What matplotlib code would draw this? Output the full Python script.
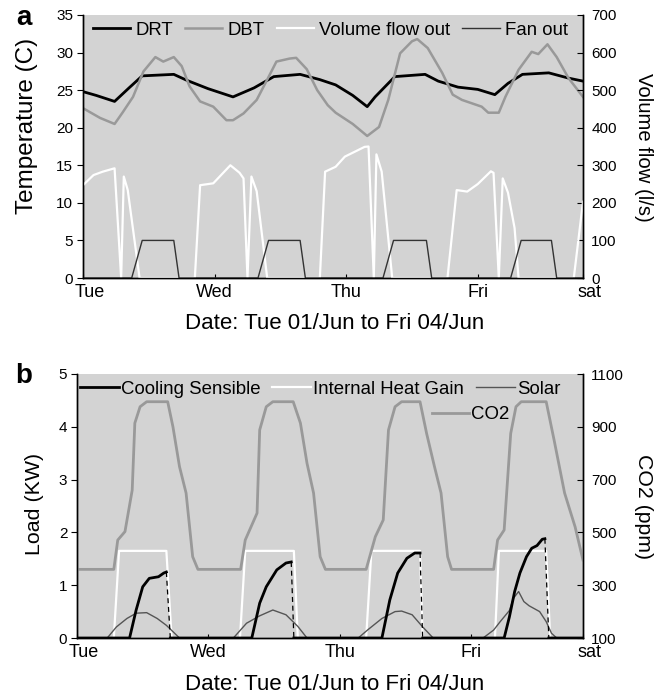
import matplotlib
matplotlib.use("Agg")

import matplotlib.pyplot as plt
import matplotlib.transforms as mtransforms
import numpy as np

plt.rcParams['font.family'] = ['Liberation Sans', 'DejaVu Sans']

BG = '#d3d3d3'

day_labels = ['Tue', 'Wed', 'Thu', 'Fri', 'sat']

# ---- panel a: temperatures (C) and flows (l/s), x in days from Tue 00:00
drt_x = [0, 0.1, 0.24, 0.35, 0.45, 0.69, 0.79, 0.95, 1.14, 1.3, 1.45, 1.65, 1.8, 1.92,
         2.05, 2.16, 2.22, 2.37, 2.6, 2.7, 2.85, 3.0, 3.13, 3.23, 3.34, 3.54, 3.69, 3.8]
drt_y = [24.8, 24.3, 23.5, 25.3, 26.9, 27.1, 26.3, 25.2, 24.1, 25.3, 26.8, 27.1, 26.4, 25.7,
         24.3, 22.8, 24.1, 26.8, 27.1, 26.2, 25.4, 25.1, 24.4, 25.9, 27.1, 27.3, 26.6, 26.2]

dbt_x = [0, 0.13, 0.24, 0.3, 0.38, 0.46, 0.55, 0.61, 0.69, 0.75, 0.81, 0.89, 0.99, 1.09,
         1.14, 1.22, 1.32, 1.4, 1.47, 1.57, 1.62, 1.7, 1.78, 1.86, 1.92, 2.05, 2.16, 2.25,
         2.32, 2.41, 2.5, 2.54, 2.62, 2.73, 2.81, 2.88, 3.03, 3.08, 3.16, 3.21, 3.31, 3.41,
         3.46, 3.53, 3.6, 3.69, 3.8]
dbt_y = [22.6, 21.3, 20.5, 22.0, 24.1, 27.5, 29.4, 28.8, 29.4, 28.2, 25.5, 23.5, 22.8, 21.0,
         21.0, 21.9, 23.7, 26.4, 28.8, 29.2, 29.3, 27.8, 25.0, 23.0, 22.0, 20.5, 18.9, 20.1,
         23.7, 29.9, 31.5, 31.8, 30.6, 27.3, 24.4, 23.7, 22.8, 22.0, 22.0, 24.1, 27.7, 30.1,
         29.8, 31.1, 29.4, 26.6, 24.1]

vol_x = [0, 0.08, 0.15, 0.2, 0.24, 0.29, 0.31, 0.34, 0.43, 0.85, 0.89, 0.99, 1.12, 1.19,
         1.22, 1.25, 1.28, 1.32, 1.4, 1.8, 1.84, 1.92, 1.99, 2.14, 2.17, 2.21, 2.23, 2.27,
         2.35, 2.77, 2.84, 2.92, 3.0, 3.1, 3.12, 3.16, 3.19, 3.23, 3.28, 3.31, 3.73, 3.8]
vol_y = [247, 274, 283, 288, 292, 0, 270, 234, 0, 0, 247, 252, 300, 280,
         265, 0, 270, 231, 0, 0, 283, 296, 323, 349, 350, 0, 329, 283,
         0, 0, 234, 230, 250, 284, 280, 0, 265, 227, 133, 0, 0, 203]

fan_x = [0, 0.37, 0.45, 0.69, 0.73, 1.33, 1.41, 1.65, 1.69, 2.28, 2.36, 2.61, 2.65,
         3.25, 3.33, 3.56, 3.6, 3.8]
fan_y = [0, 0, 100, 100, 0, 0, 100, 100, 0, 0, 100, 100, 0, 0, 100, 100, 0, 0]

# ---- panel b: loads (kW) and CO2 (ppm)
cool_x = [0, 0.40, 0.45, 0.50, 0.55, 0.62, 0.66, 0.68, 0.71,
          1.33, 1.39, 1.44, 1.52, 1.59, 1.63, 1.65,
          2.32, 2.38, 2.44, 2.51, 2.57, 2.61, 2.63,
          3.25, 3.29, 3.33, 3.37, 3.42, 3.46, 3.50, 3.54, 3.56, 3.59, 3.85]
cool_y = [0, 0, 0.53, 0.97, 1.13, 1.16, 1.23, 1.25, 0,
          0, 0.66, 0.97, 1.29, 1.42, 1.44, 0,
          0, 0.72, 1.23, 1.51, 1.61, 1.61, 0,
          0, 0.40, 0.88, 1.23, 1.54, 1.70, 1.75, 1.87, 1.88, 0, 0]

ihg_x = [0, 0.28, 0.32, 0.68, 0.72, 1.24, 1.28, 1.65, 1.68, 2.20, 2.24, 2.61, 2.63,
         3.18, 3.21, 3.57, 3.60, 3.85]
ihg_y = [0, 0, 1.65, 1.65, 0, 0, 1.65, 1.65, 0, 0, 1.65, 1.65, 0, 0, 1.65, 1.65, 0, 0]

sol_x = [0, 0.23, 0.30, 0.38, 0.45, 0.53, 0.61, 0.68, 0.78,
         1.19, 1.29, 1.39, 1.49, 1.59, 1.68, 1.75,
         2.14, 2.21, 2.32, 2.42, 2.47, 2.55, 2.63, 2.71,
         3.09, 3.17, 3.22, 3.29, 3.32, 3.36, 3.40, 3.44, 3.52, 3.57, 3.61, 3.65, 3.85]
sol_y = [0, 0, 0.21, 0.37, 0.47, 0.48, 0.37, 0.24, 0,
         0, 0.28, 0.42, 0.53, 0.44, 0.22, 0,
         0, 0.15, 0.37, 0.50, 0.51, 0.44, 0.21, 0,
         0, 0.15, 0.31, 0.52, 0.75, 0.88, 0.69, 0.61, 0.50, 0.31, 0.09, 0, 0]

co2_x = [0, 0.28, 0.31, 0.365, 0.42, 0.44, 0.48, 0.53, 0.69, 0.73, 0.78, 0.83, 0.88, 0.92,
         1.245, 1.28, 1.37, 1.39, 1.44, 1.49, 1.645, 1.70, 1.75, 1.80, 1.85, 1.89,
         2.20, 2.27, 2.33, 2.37, 2.42, 2.47, 2.61, 2.66, 2.72, 2.77, 2.82, 2.85,
         3.17, 3.20, 3.25, 3.30, 3.34, 3.38, 3.57, 3.63, 3.71, 3.79, 3.85]
co2_y = [360, 360, 471, 503, 660, 914, 976, 995, 995, 900, 749, 649, 408, 360,
         360, 471, 573, 888, 976, 995, 995, 914, 762, 649, 408, 360,
         360, 484, 547, 888, 976, 995, 995, 875, 749, 649, 408, 360,
         360, 471, 509, 875, 976, 995, 995, 850, 649, 521, 395]


def px(x, y):
    # pixel position (from top-left) -> figure fraction
    return x / 670, 1 - y / 698


def style_axes(ax, ax2, xmax):
    ax.set_facecolor(BG)
    ax2.patch.set_visible(False)
    for a in (ax, ax2):
        a.spines['top'].set_visible(False)
        for s in ('left', 'right', 'bottom'):
            a.spines[s].set_linewidth(1.0)
    ax.set_xlim(0, xmax)
    ax.set_xticks([0, 1, 2, 3, xmax])
    ax.set_xticklabels(day_labels, fontsize=13)
    ax.tick_params(axis='x', direction='in', length=3, pad=4)
    ax.tick_params(axis='y', direction='out', length=4, pad=3, labelsize=11)
    ax2.tick_params(axis='y', direction='in', length=4, pad=6, labelsize=11)
    labels = ax.get_xticklabels()
    shift = mtransforms.ScaledTranslation(7 / 100, 0, ax.figure.dpi_scale_trans)
    for lab in (labels[0], labels[-1]):
        lab.set_transform(lab.get_transform() + shift)


fig = plt.figure(figsize=(6.7, 6.98), dpi=100)

# ---------------- panel a
l, b = px(83, 278)
axa = fig.add_axes([l, b, 500 / 670, 263 / 698])
axa2 = axa.twinx()
h1, = axa.plot(drt_x, drt_y, color='black', lw=2.0, label='DRT')
h2, = axa.plot(dbt_x, dbt_y, color='#999999', lw=1.8, label='DBT')
h3, = axa2.plot(vol_x, vol_y, color='white', lw=1.6, label='Volume flow out')
h4, = axa2.plot(fan_x, fan_y, color='#333333', lw=1.0, label='Fan out')
axa.set_ylim(0, 35)
axa.set_yticks(range(0, 36, 5))
axa2.set_ylim(0, 700)
axa2.set_yticks(range(0, 701, 100))
style_axes(axa, axa2, 3.8)
axa2.legend([h1, h2, h3, h4], [h.get_label() for h in (h1, h2, h3, h4)],
            loc='upper left', bbox_to_anchor=(0.02, 0.975), ncol=4, frameon=False,
            fontsize=13.4, handlelength=2.0, handletextpad=0.28, columnspacing=0.65,
            borderpad=0, borderaxespad=0)

# ---------------- panel b
l, b = px(77, 638)
axb = fig.add_axes([l, b, 506 / 670, 264 / 698])
axb2 = axb.twinx()
g2, = axb.plot(ihg_x, ihg_y, color='white', lw=1.6, label='Internal Heat Gain')
g3, = axb.plot(sol_x, sol_y, color='#555555', lw=1.0, label='Solar')

# cooling sensible: solid rise, dashed drop back to zero
cx = np.array(cool_x)
cy = np.array(cool_y)
drop = (cy[:-1] > 0) & (cy[1:] == 0)
xs, ys = [], []
for i in range(len(cx)):
    xs.append(cx[i])
    ys.append(cy[i])
    if i < len(cx) - 1 and drop[i]:
        xs.append(np.nan)
        ys.append(np.nan)
        axb.plot(cx[i:i + 2], cy[i:i + 2], color='black', lw=0.9, ls=(0, (4, 3)))
g1, = axb.plot(xs, ys, color='black', lw=2.0, label='Cooling Sensible')

g4, = axb2.plot(co2_x, co2_y, color='#999999', lw=2.0, label='CO2')
axb.set_ylim(0, 5)
axb.set_yticks(range(0, 6))
axb2.set_ylim(100, 1100)
axb2.set_yticks(range(100, 1101, 200))
style_axes(axb, axb2, 3.85)
leg1 = axb2.legend([g1, g2, g3], [h.get_label() for h in (g1, g2, g3)],
                   loc='upper left', bbox_to_anchor=(0.006, 0.975), ncol=3, frameon=False,
                   fontsize=13.4, handlelength=2.1, handletextpad=0.12, columnspacing=0.6,
                   borderpad=0, borderaxespad=0)
axb2.add_artist(leg1)
axb2.legend([g4], ['CO2'], loc='upper left', bbox_to_anchor=((432 - 77) / 506, 0.878),
            frameon=False, fontsize=13.4, handlelength=2.0, handletextpad=0.12,
            borderpad=0, borderaxespad=0)

# ---------------- labels
fig.text(*px(27, 126), 'Temperature (C)', rotation=90, ha='center', va='center', fontsize=17.5)
fig.text(*px(643, 147), 'Volume flow (l/s)', rotation=270, ha='center', va='center', fontsize=14.6)
fig.text(*px(35, 504), 'Load (KW)', rotation=90, ha='center', va='center', fontsize=15.4)
fig.text(*px(643, 507), 'CO2 (ppm)', rotation=270, ha='center', va='center', fontsize=15.3)
fig.text(*px(335, 323), 'Date: Tue 01/Jun to Fri 04/Jun', ha='center', va='center', fontsize=16)
fig.text(*px(335, 684), 'Date: Tue 01/Jun to Fri 04/Jun', ha='center', va='center', fontsize=16)
fig.text(*px(24, 18), 'a', ha='center', va='center', fontsize=20, fontweight='bold')
fig.text(*px(24, 376), 'b', ha='center', va='center', fontsize=20, fontweight='bold')

fig.savefig('out.png', dpi=100)
